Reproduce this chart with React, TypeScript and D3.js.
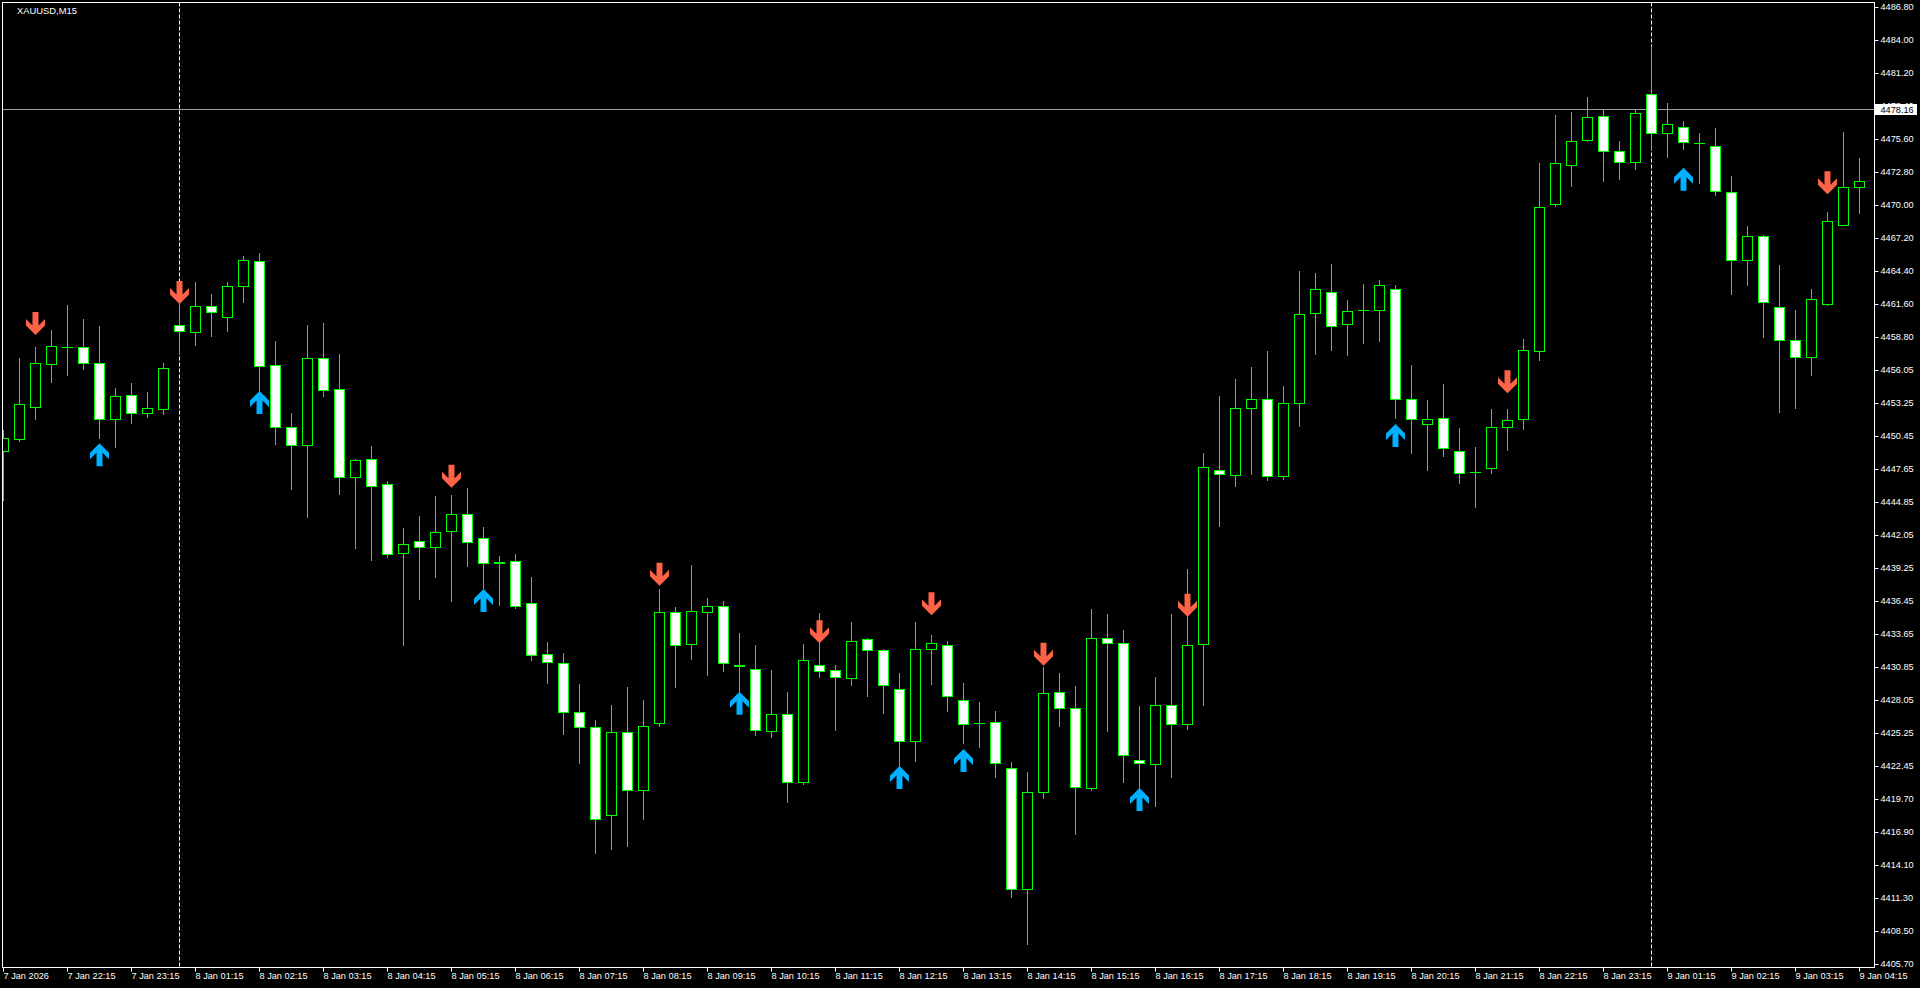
import React, { useEffect, useRef } from "react";
import * as d3 from "d3";

// XAUUSD M15 bars, 7 Jan 21:15 .. 9 Jan 04:15
const opens = [
  4449.17, 4450.22, 4452.93, 4456.57, 4457.96, 4457.96, 4456.61, 4451.86, 4453.89, 4452.42,
  4452.76, 4459.83, 4459.28, 4461.44, 4460.55, 4463.13, 4465.25, 4456.44, 4451.18, 4449.71,
  4457.03, 4454.4, 4446.99, 4448.47, 4446.35, 4440.55, 4441.52, 4441.01, 4442.37, 4443.81,
  4441.77, 4439.79, 4439.83, 4436.27, 4431.94, 4431.18, 4427.03, 4425.76, 4418.3, 4425.33,
  4420.47, 4426.15, 4435.5, 4432.84, 4435.5, 4436.01, 4431.06, 4430.67, 4425.42, 4426.86,
  4421.1, 4431.01, 4430.59, 4429.96, 4433.22, 4432.28, 4428.98, 4424.57, 4432.37, 4432.71,
  4428.11, 4426.15, 4426.18, 4422.35, 4412.06, 4420.27, 4428.72, 4427.38, 4420.58, 4433.36,
  4432.94, 4422.96, 4422.69, 4427.61, 4426.07, 4432.78, 4447.56, 4447.17, 4452.85, 4453.55,
  4447.02, 4453.27, 4460.83, 4462.67, 4459.91, 4461.11, 4461.11, 4462.87, 4453.55, 4451.44,
  4451.94, 4449.15, 4447.42, 4447.71, 4451.18, 4451.91, 4457.62, 4470.08, 4473.38, 4475.55,
  4477.54, 4474.57, 4473.64, 4479.4, 4476.1, 4476.66, 4475.3, 4474.99, 4471.1, 4465.33,
  4467.37, 4461.4, 4458.55, 4457.11, 4461.66, 4468.35, 4471.52,
];
const highs = [
  4450.95, 4457.05, 4457.99, 4459.43, 4461.55, 4460.36, 4459.77, 4454.51, 4454.91, 4454.15,
  4456.63, 4461.63, 4463.47, 4462.48, 4463.47, 4465.7, 4465.93, 4458.49, 4452.39, 4459.85,
  4460.02, 4457.39, 4448.49, 4449.6, 4446.63, 4442.65, 4443.66, 4445.36, 4445.42, 4446.04,
  4442.73, 4440.27, 4440.44, 4438.49, 4432.99, 4432.05, 4429.43, 4426.38, 4427.65, 4429.17,
  4428.07, 4437.48, 4435.95, 4439.49, 4436.72, 4436.44, 4433.75, 4432.73, 4430.61, 4428.75,
  4432.82, 4435.44, 4431.04, 4434.68, 4433.33, 4432.37, 4430.33, 4434.68, 4433.58, 4433.07,
  4429.49, 4427.91, 4427.14, 4422.81, 4421.96, 4430.87, 4430.33, 4429.29, 4435.82, 4435.32,
  4433.98, 4427.53, 4430.02, 4435.36, 4439.16, 4448.98, 4453.85, 4455.31, 4456.31, 4457.69,
  4454.7, 4464.44, 4464.22, 4465.05, 4461.99, 4463.29, 4463.64, 4463.24, 4456.46, 4453.49,
  4454.85, 4451.12, 4449.51, 4452.73, 4452.73, 4458.66, 4473.58, 4477.65, 4477.9, 4479.17,
  4478.1, 4475.44, 4478.1, 4483.49, 4478.66, 4477.14, 4476.12, 4476.52, 4472.45, 4468.24,
  4467.45, 4464.94, 4461.12, 4462.9, 4469.43, 4476.21, 4473.98,
];
const lows = [
  4445.02, 4450.05, 4451.88, 4455.02, 4455.61, 4456.12, 4450.3, 4449.51, 4451.57, 4452.08,
  4452.33, 4457.5, 4458.18, 4458.94, 4459.37, 4461.83, 4454.2, 4449.79, 4445.98, 4443.61,
  4453.86, 4445.53, 4440.98, 4439.96, 4440.22, 4432.73, 4436.66, 4438.52, 4436.49, 4439.45,
  4437.54, 4436.15, 4435.89, 4431.46, 4429.54, 4425.22, 4422.76, 4415.13, 4415.47, 4415.7,
  4418.01, 4425.89, 4429.2, 4431.55, 4430.19, 4430.55, 4428.77, 4425.13, 4424.96, 4419.45,
  4420.93, 4430.05, 4425.55, 4429.37, 4428.41, 4426.99, 4422.48, 4422.93, 4429.45, 4427.14,
  4424.46, 4424.11, 4421.58, 4411.41, 4407.38, 4419.74, 4425.84, 4416.74, 4420.43, 4425.42,
  4421.16, 4420.55, 4419.12, 4421.58, 4425.65, 4427.68, 4442.83, 4446.17, 4447.25, 4446.75,
  4446.83, 4451.32, 4457.42, 4457.77, 4457.34, 4458.34, 4458.53, 4451.94, 4449.03, 4447.59,
  4448.77, 4446.49, 4444.43, 4447.33, 4449.26, 4451.06, 4456.91, 4469.95, 4471.66, 4475.44,
  4472.08, 4472.25, 4473.1, 4474.71, 4474.11, 4474.79, 4471.91, 4470.89, 4462.5, 4463.27,
  4458.86, 4452.45, 4452.84, 4455.64, 4461.55, 4468.3, 4469.37,
];
const closes = [
  4450.27, 4453.13, 4456.61, 4458.05, 4457.96, 4456.61, 4451.86, 4453.81, 4452.42, 4452.79,
  4456.18, 4459.34, 4461.44, 4460.93, 4463.13, 4465.33, 4456.4, 4451.18, 4449.66, 4457.03,
  4454.37, 4446.99, 4448.38, 4446.23, 4440.47, 4441.29, 4441.01, 4442.28, 4443.81, 4441.44,
  4439.66, 4439.66, 4436.01, 4431.86, 4431.27, 4427.03, 4425.76, 4417.96, 4425.33, 4420.47,
  4425.84, 4435.5, 4432.76, 4435.59, 4436.01, 4431.18, 4430.93, 4425.5, 4426.86, 4421.1,
  4431.44, 4430.5, 4429.99, 4433.05, 4432.28, 4429.32, 4424.57, 4432.37, 4432.88, 4428.38,
  4426.07, 4426.15, 4422.73, 4412.06, 4420.24, 4428.64, 4427.38, 4420.66, 4433.33, 4432.9,
  4423.42, 4422.73, 4427.61, 4426.07, 4432.71, 4447.79, 4447.22, 4452.85, 4453.62, 4447.02,
  4453.27, 4460.76, 4462.94, 4459.76, 4461.06, 4461.11, 4463.22, 4453.55, 4451.86, 4451.86,
  4449.4, 4447.28, 4447.42, 4451.18, 4451.77, 4457.71, 4469.83, 4473.55, 4475.42, 4477.45,
  4474.57, 4473.66, 4477.79, 4476.1, 4476.86, 4475.33, 4475.3, 4471.18, 4465.33, 4467.37,
  4461.77, 4458.55, 4457.11, 4462.03, 4468.64, 4471.52, 4472.03,
];

// signal arrows (bar index + tip price)
const sellArrowBars = [2, 11, 28, 41, 51, 58, 65, 74, 94, 114];
const sellArrowPrices = [4459.0, 4461.63, 4446.06, 4437.76, 4432.88, 4435.25, 4430.98, 4435.12, 4454.06, 4470.93];
const buyArrowBars = [6, 16, 30, 46, 56, 60, 71, 87, 105];
const buyArrowPrices = [4449.83, 4454.26, 4437.48, 4428.77, 4422.48, 4423.92, 4420.61, 4451.47, 4473.18];

// day separators sit on the first bar of each day
const separatorBars = [11, 103];

const timeLabels = [
  "7 Jan 2026", "7 Jan 22:15", "7 Jan 23:15",
  "8 Jan 01:15", "8 Jan 02:15", "8 Jan 03:15", "8 Jan 04:15", "8 Jan 05:15", "8 Jan 06:15",
  "8 Jan 07:15", "8 Jan 08:15", "8 Jan 09:15", "8 Jan 10:15", "8 Jan 11:15", "8 Jan 12:15",
  "8 Jan 13:15", "8 Jan 14:15", "8 Jan 15:15", "8 Jan 16:15", "8 Jan 17:15", "8 Jan 18:15",
  "8 Jan 19:15", "8 Jan 20:15", "8 Jan 21:15", "8 Jan 22:15", "8 Jan 23:15",
  "9 Jan 01:15", "9 Jan 02:15", "9 Jan 03:15", "9 Jan 04:15",
];

const priceTicks = [
  4486.8, 4484.0, 4481.2, 4478.4, 4475.6, 4472.8, 4470.0, 4467.2, 4464.4, 4461.6,
  4458.8, 4456.05, 4453.25, 4450.45, 4447.65, 4444.85, 4442.05, 4439.25, 4436.45, 4433.65,
  4430.85, 4428.05, 4425.25, 4422.45, 4419.7, 4416.9, 4414.1, 4411.3, 4408.5, 4405.7,
];

const symbolTitle = "XAUUSD,M15";
const currentPrice = 4478.16;

const W = 1920;
const H = 988;

// arrow glyph outline, tip at (0,0), pointing down
const arrowShape: [number, number][] = [
  [-3, -23], [3, -23], [3, -9.5], [9.5, -16], [9.5, -9.5], [0, 0],
  [-9.5, -9.5], [-9.5, -16], [-3, -9.5],
];

const App: React.FC = () => {
  const svgRef = useRef<SVGSVGElement | null>(null);

  useEffect(() => {
    if (!svgRef.current) return;
    const svg = d3.select(svgRef.current);
    svg.selectAll("*").remove();

    const font = "'Liberation Sans', Arial, sans-serif";
    const plot = { left: 2.5, top: 2.5, right: 1874.5, bottom: 967.5 };

    const x = d3.scaleLinear().domain([0, opens.length - 1]).range([3.5, 1859.5]);
    const y = d3.scaleLinear().domain([4405.7, 4486.8]).range([964, 7]);
    const py = (v: number) => Math.round(y(v));

    svg.append("rect").attr("width", W).attr("height", H).attr("fill", "#000");

    svg
      .append("defs")
      .append("clipPath")
      .attr("id", "plot-clip")
      .append("rect")
      .attr("x", plot.left)
      .attr("y", plot.top)
      .attr("width", plot.right - plot.left)
      .attr("height", plot.bottom - plot.top);

    const g = svg.append("g").attr("clip-path", "url(#plot-clip)");

    // period separators
    g.selectAll("line.sep")
      .data(separatorBars)
      .enter()
      .append("line")
      .attr("class", "sep")
      .attr("x1", (d) => x(d))
      .attr("x2", (d) => x(d))
      .attr("y1", plot.top)
      .attr("y2", plot.bottom)
      .attr("stroke", "#fff")
      .attr("stroke-dasharray", "4,2");

    // current price line
    g.append("line")
      .attr("x1", plot.left)
      .attr("x2", plot.right)
      .attr("y1", py(currentPrice) + 0.5)
      .attr("y2", py(currentPrice) + 0.5)
      .attr("stroke", "#a0a0a0");

    const bars = opens.map((o, i) => ({ i, o, h: highs[i], l: lows[i], c: closes[i] }));

    // wicks
    g.selectAll("line.wick")
      .data(bars)
      .enter()
      .append("line")
      .attr("class", "wick")
      .attr("x1", (d) => x(d.i))
      .attr("x2", (d) => x(d.i))
      .attr("y1", (d) => py(d.h))
      .attr("y2", (d) => py(d.l) + 1)
      .attr("stroke", "#00ff00");

    // bodies
    bars.forEach((d) => {
      const top = py(Math.max(d.o, d.c));
      const bot = py(Math.min(d.o, d.c));
      const cx = x(d.i);
      if (bot - top < 1) {
        g.append("line")
          .attr("x1", cx - 5.5)
          .attr("x2", cx + 5.5)
          .attr("y1", top + 0.5)
          .attr("y2", top + 0.5)
          .attr("stroke", "#00ff00");
      } else {
        g.append("rect")
          .attr("x", cx - 5)
          .attr("y", top + 0.5)
          .attr("width", 10)
          .attr("height", bot - top)
          .attr("fill", d.c < d.o ? "#fff" : "#000")
          .attr("stroke", "#00ff00");
      }
    });

    // arrows
    const pts = (cx: number, tip: number, dir: number) =>
      arrowShape.map(([ax, ay]) => `${cx + ax},${tip + ay * dir}`).join(" ");

    g.selectAll("polygon.sell")
      .data(sellArrowBars)
      .enter()
      .append("polygon")
      .attr("class", "sell")
      .attr("points", (d, k) => pts(x(d), y(sellArrowPrices[k]), 1))
      .attr("fill", "#ff6347");

    g.selectAll("polygon.buy")
      .data(buyArrowBars)
      .enter()
      .append("polygon")
      .attr("class", "buy")
      .attr("points", (d, k) => pts(x(d), y(buyArrowPrices[k]), -1))
      .attr("fill", "#00b0ff");

    // price axis
    const yAxis = d3
      .axisRight(y)
      .tickValues(priceTicks)
      .tickSize(4)
      .tickPadding(2)
      .tickFormat((d) => (+d).toFixed(2));

    const ya = svg
      .append("g")
      .attr("transform", `translate(${plot.right},0)`)
      .call(yAxis);
    ya.select(".domain").remove();
    ya.selectAll<SVGGElement, number>(".tick").attr(
      "transform",
      (d) => `translate(0,${py(d) + 0.5})`
    );
    ya.selectAll("line").attr("stroke", "#fff");
    ya.selectAll("text")
      .attr("fill", "#fff")
      .style("font-family", font)
      .style("font-size", "9.2px");

    // time axis
    const xAxis = d3
      .axisBottom(x)
      .tickValues(d3.range(0, opens.length, 4))
      .tickSize(4)
      .offset(0)
      .tickFormat((d, i) => timeLabels[i]);

    const xa = svg
      .append("g")
      .attr("transform", `translate(0,${plot.bottom})`)
      .call(xAxis);
    xa.select(".domain").remove();
    xa.selectAll("line").attr("stroke", "#fff");
    xa.selectAll("text")
      .attr("text-anchor", "start")
      .attr("x", 0)
      .attr("y", 11.5)
      .attr("dy", null)
      .attr("fill", "#fff")
      .style("font-family", font)
      .style("font-size", "9.2px");

    // frame
    svg
      .append("rect")
      .attr("x", plot.left)
      .attr("y", plot.top)
      .attr("width", plot.right - plot.left)
      .attr("height", plot.bottom - plot.top)
      .attr("fill", "none")
      .attr("stroke", "#fff");

    // current price tag
    const cy = py(currentPrice);
    svg
      .append("rect")
      .attr("x", plot.right + 0.5)
      .attr("y", cy - 5)
      .attr("width", 42)
      .attr("height", 11)
      .attr("fill", "#fff");
    svg
      .append("text")
      .attr("x", plot.right + 6)
      .attr("y", cy + 0.5)
      .attr("dy", "0.35em")
      .attr("fill", "#000")
      .style("font-family", font)
      .style("font-size", "9.2px")
      .text(currentPrice.toFixed(2));

    // symbol title
    svg
      .append("text")
      .attr("x", 17)
      .attr("y", 14)
      .attr("fill", "#fff")
      .style("font-family", font)
      .style("font-size", "9.4px")
      .text(symbolTitle);
  }, []);

  return (
    <div style={{ position: "fixed", left: 0, top: 0, width: W, height: H, background: "#000" }}>
      <svg ref={svgRef} width={W} height={H} style={{ display: "block" }}></svg>
    </div>
  );
};

export default App;
